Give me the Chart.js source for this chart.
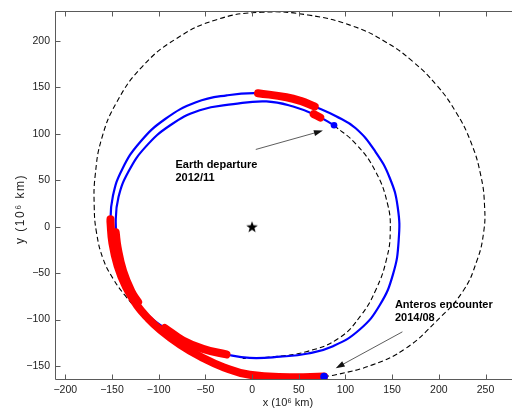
<!DOCTYPE html>
<html>
<head>
<meta charset="utf-8">
<title>Earth - Anteros transfer</title>
<script src="https://cdn.jsdelivr.net/npm/chart.js@4.4.0/dist/chart.umd.min.js"></script>
<style>
  html, body { margin: 0; padding: 0; background: #fff; overflow: hidden; }
  #wrap { width: 521px; height: 410px; }
</style>
</head>
<body>
<div id="wrap"><canvas id="orbitChart" width="521" height="410"></canvas></div>
<script>
// all values in 10^6 km

// Anteros orbit (closed, dashed)
const anterosOrbit = [
  [77.1, -161.3], [89.6, -159.5], [128.9, -148.8], [164.6, -131], [196.7, -102.4],
  [225.3, -70.3], [241, -36], [248, -6], [249, 22], [245, 55], [234, 92],
  [218, 124], [198, 152], [172, 178], [143, 199], [108, 216],
  [60, 228], [10, 231], [-38, 223], [-82, 202], [-118, 172], [-145, 134],
  [-161, 95], [-168, 55], [-169, 22], [-166.6, -6.1], [-159.5, -34.6],
  [-148.8, -56], [-136, -74], [-120, -92], [-95, -115], [-60, -138], [-20, -154],
  [20, -161], [55, -163], [77.1, -161.3]
];

// Earth orbit arc after departure (dashed)
const earthArc = [
  [87.8, 109.2], [111.8, 88.5], [132, 60], [145, 25], [148, -5], [144, -35],
  [133, -67], [117, -95], [93, -120], [58, -134.6], [22, -140], [-10, -142]
];

// spacecraft trajectory, departure -> encounter
const trajectory = [
  [87.8, 109.2], [69.6, 119.6], [44, 129.5], [15.4, 135], [-20, 132], [-56, 125.5],
  [-88, 109], [-114, 86], [-132, 60], [-143, 32], [-146, 5], [-144, -22],
  [-138, -48], [-129, -70], [-118, -88], [-106, -100], [-93.5, -109], [-73.9, -122.5],
  [-52.5, -131.5], [-27.4, -137.6], [-2.5, -141.3], [30, -140], [60, -136.5], [86, -129],
  [115, -111], [137, -84], [151, -51], [157, -15], [156, 21],
  [147.5, 52.5], [132, 81], [111, 106], [90, 119], [67.1, 129.5], [52, 135.5], [36.8, 139.5],
  [6.4, 143.8], [-27, 141.5], [-60, 134], [-93, 116], [-120, 91], [-139, 62],
  [-149, 33], [-151.6, 5], [-149.5, -18], [-144, -42],
  [-135, -65], [-123, -85], [-111, -99], [-98.8, -110.5], [-77, -127],
  [-55, -140], [-30, -151.5], [-2.5, -159.5], [40.4, -162], [77.1, -161.3]
];

// thrust arcs (red)
const thrust1 = [[66, 121.3], [73, 117.6]];
const thrust2 = [[67.1, 129.5], [52, 135.5], [36.8, 139.5], [6.4, 143.8]];
const thrust3 = [[-146, -6], [-144, -22], [-138, -48], [-129, -70], [-122, -81]];
const thrust4 = [[-93.5, -109], [-73.9, -122.5], [-52.5, -131.5], [-27.4, -137.6]];
const thrust5 = [
  [-151.6, 8], [-151.6, 5], [-149.5, -18], [-144, -42], [-135, -65],
  [-123, -85], [-111, -99], [-98.8, -110.5], [-77, -127], [-55, -140],
  [-30, -151.5], [-2.5, -159.5], [40.4, -162], [77.1, -161.3]
];

const departure = [[87.8, 109.2]];
const encounter = [[77.1, -161.3]];
const sun = [[0, 0]];

const xTicks = [-200, -150, -100, -50, 0, 50, 100, 150, 200, 250];
const yTicks = [-150, -100, -50, 0, 50, 100, 150, 200];

// text labels with arrows
const notes = [
  { lines: ["Earth departure", "2012/11"], at: [-82, 66], from: [4, 83.2], to: [75.9, 103.5] },
  { lines: ["Anteros encounter", "2014/08"], at: [153, -84.6], from: [161, -113.2], to: [89.6, -152.4] }
];

const pts = (arr) => arr.map(([x, y]) => ({ x, y }));
const minus = (v) => String(v).replace("-", "\u2212");
const FONT = "Liberation Sans, Arial, Helvetica, sans-serif";

// filled star marker for the Sun
const sunStar = (() => {
  const c = document.createElement("canvas");
  c.width = 14;
  c.height = 14;
  const g = c.getContext("2d");
  g.fillStyle = "#000";
  g.beginPath();
  for (let i = 0; i < 10; i++) {
    const r = i % 2 ? 2.5 : 6.1;
    const a = -Math.PI / 2 + (i * Math.PI) / 5;
    g.lineTo(7 + r * Math.cos(a), 7.6 + r * Math.sin(a));
  }
  g.closePath();
  g.fill();
  return c;
})();

function curve(data, color, width, extra) {
  return Object.assign(
    {
      data: pts(data),
      showLine: true,
      borderColor: color,
      backgroundColor: color,
      borderWidth: width,
      pointRadius: 0,
      tension: 0.45,
      fill: false,
    },
    extra
  );
}

const thrustStyle = { borderCapStyle: "round", borderJoinStyle: "round", order: 1 };

const fixTicks = (list) => (s) => { s.ticks = list.map((v) => ({ value: v })); };

const frame = {
  id: "frame",
  afterDatasetsDraw(chart) {
    const { ctx, chartArea: a, scales } = chart;
    const L = Math.round(a.left) + 0.5;
    const T = Math.round(a.top) + 0.5;
    const B = Math.round(a.bottom) + 0.5;
    ctx.save();
    ctx.strokeStyle = "#5a5a5a";
    ctx.lineWidth = 1;
    ctx.beginPath();
    ctx.moveTo(a.right, T);
    ctx.lineTo(L, T);
    ctx.lineTo(L, B);
    ctx.lineTo(a.right, B);
    xTicks.forEach((v) => {
      const px = Math.round(scales.x.getPixelForValue(v)) + 0.5;
      ctx.moveTo(px, B);
      ctx.lineTo(px, B - 5);
      ctx.moveTo(px, T);
      ctx.lineTo(px, T + 5);
    });
    yTicks.forEach((v) => {
      const py = Math.round(scales.y.getPixelForValue(v)) + 0.5;
      ctx.moveTo(L, py);
      ctx.lineTo(L + 5, py);
    });
    ctx.stroke();

    // axis titles
    ctx.fillStyle = "#222";
    ctx.font = "11px " + FONT;
    ctx.textAlign = "center";
    ctx.textBaseline = "middle";
    ctx.fillText("x (10\u2076 km)", (a.left + a.right) / 2, 403);
    ctx.translate(21, 209);
    ctx.rotate(-Math.PI / 2);
    ctx.letterSpacing = "1.5px";
    ctx.font = "12px " + FONT;
    ctx.fillText("y (10\u2076 km)", 0, 0);
    ctx.restore();
  },
  afterDraw(chart) {
    const { ctx, scales } = chart;
    const px = (p) => [scales.x.getPixelForValue(p[0]), scales.y.getPixelForValue(p[1])];
    ctx.save();
    notes.forEach((n) => {
      const [tx, ty] = px(n.at);
      ctx.fillStyle = "#000";
      ctx.font = "bold 11px " + FONT;
      ctx.textAlign = "left";
      ctx.textBaseline = "middle";
      n.lines.forEach((s, i) => ctx.fillText(s, tx, ty + i * 13));

      const [x0, y0] = px(n.from);
      const [x1, y1] = px(n.to);
      const ang = Math.atan2(y1 - y0, x1 - x0);
      ctx.strokeStyle = "#333";
      ctx.lineWidth = 0.8;
      ctx.beginPath();
      ctx.moveTo(x0, y0);
      ctx.lineTo(x1 - 6 * Math.cos(ang), y1 - 6 * Math.sin(ang));
      ctx.stroke();
      ctx.fillStyle = "#111";
      ctx.beginPath();
      ctx.moveTo(x1, y1);
      ctx.lineTo(x1 - 9 * Math.cos(ang) + 3 * Math.sin(ang), y1 - 9 * Math.sin(ang) - 3 * Math.cos(ang));
      ctx.lineTo(x1 - 9 * Math.cos(ang) - 3 * Math.sin(ang), y1 - 9 * Math.sin(ang) + 3 * Math.cos(ang));
      ctx.closePath();
      ctx.fill();
    });
    ctx.restore();
  },
};

new Chart(document.getElementById("orbitChart"), {
  type: "scatter",
  data: {
    datasets: [
      curve(anterosOrbit, "#000", 1.1, { borderDash: [5, 3], order: 3 }),
      curve(earthArc, "#000", 1.1, { borderDash: [5, 3], order: 3 }),
      curve(trajectory, "#0000ff", 2.2, { order: 2 }),
      curve(thrust1, "#ff0000", 8, thrustStyle),
      curve(thrust2, "#ff0000", 8, thrustStyle),
      curve(thrust3, "#ff0000", 8, thrustStyle),
      curve(thrust4, "#ff0000", 8, thrustStyle),
      curve(thrust5, "#ff0000", 8, thrustStyle),
      { data: pts(departure), pointRadius: 3.3, backgroundColor: "#0000ff", borderWidth: 0, order: 0 },
      { data: pts(encounter), pointRadius: 3.8, backgroundColor: "#0000ff", borderWidth: 0, order: 0 },
      { data: pts(sun), pointStyle: sunStar, order: 0 },
    ],
  },
  options: {
    responsive: false,
    animation: false,
    events: [],
    layout: { autoPadding: false, padding: { top: 9.5, left: 0, right: 0, bottom: 0 } },
    plugins: { legend: { display: false }, tooltip: { enabled: false } },
    scales: {
      x: {
        type: "linear",
        min: -211,
        max: 288,
        afterBuildTicks: fixTicks(xTicks),
        afterFit: (s) => { s.height = 31; },
        grid: { display: false, drawTicks: false },
        border: { display: false },
        ticks: {
          maxRotation: 0,
          autoSkip: false,
          padding: 5,
          color: "#222",
          font: { family: FONT, size: 10.5 },
          callback: minus,
        },
      },
      y: {
        type: "linear",
        min: -164,
        max: 232,
        afterBuildTicks: fixTicks(yTicks),
        afterFit: (s) => { s.width = 55; },
        grid: { display: false, drawTicks: false },
        border: { display: false },
        ticks: {
          padding: 5,
          color: "#222",
          font: { family: FONT, size: 10.5 },
          callback: minus,
        },
      },
    },
  },
  plugins: [frame],
});
</script>
</body>
</html>
